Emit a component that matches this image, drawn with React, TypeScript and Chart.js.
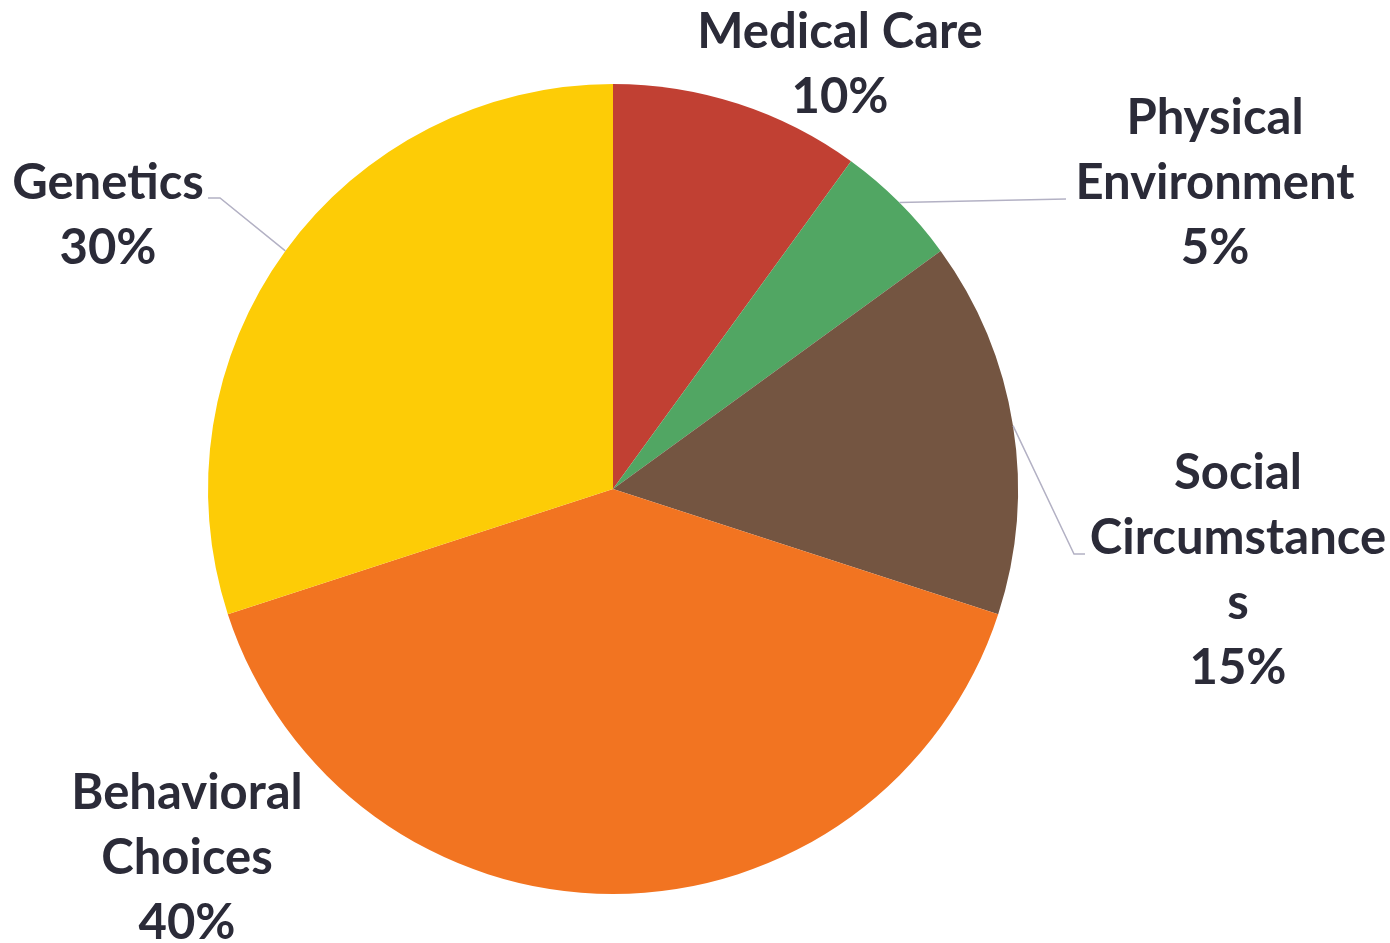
import React, { useEffect, useRef } from "react";
import { Chart, registerables } from "chart.js";

Chart.register(...registerables);

const categories = ["Medical Care", "Physical Environment", "Social Circumstances", "Behavioral Choices", "Genetics"];
const shares = [10, 5, 15, 40, 30];
const sliceColors = ["#C14033", "#51A663", "#745541", "#F27421", "#FDCC06"];
// label lines as they are wrapped in the picture
const labelLines = [
  ["Medical Care", "10%"],
  ["Physical", "Environment", "5%"],
  ["Social", "Circumstance", "s", "15%"],
  ["Behavioral", "Choices", "40%"],
  ["Genetics", "30%"],
];

// layout: label block centre x, first line middle y; optional leader line
const labelLayout = [
  { x: 840, y: 32, leader: null as null | number[][] },
  { x: 1215, y: 118, leader: [[1066, 199]] },
  { x: 1238, y: 473, leader: [[1074, 554], [1085, 554]] },
  { x: 187, y: 793, leader: null },
  { x: 108, y: 183, leader: [[220, 198], [208, 198]] },
];

const LINE_H = 65;
const FONT = "bold 49px Lato, 'Open Sans', sans-serif";
const TEXT_COLOR = "#2B2B38";
const LEADER_COLOR = "#B3B1C4";

const labelPlugin = {
  id: "pieLabels",
  afterDatasetsDraw(chart: any) {
    const ctx = chart.ctx as CanvasRenderingContext2D;
    const meta = chart.getDatasetMeta(0);
    ctx.save();
    meta.data.forEach((arc: any, i: number) => {
      const lay = labelLayout[i];
      if (lay.leader) {
        const { x, y, startAngle, endAngle, outerRadius } = arc.getProps(
          ["x", "y", "startAngle", "endAngle", "outerRadius"],
          true
        );
        const mid = (startAngle + endAngle) / 2;
        const sx = x + Math.cos(mid) * outerRadius;
        const sy = y + Math.sin(mid) * outerRadius;
        ctx.beginPath();
        ctx.moveTo(sx, sy);
        lay.leader.forEach((p) => ctx.lineTo(p[0], p[1]));
        ctx.strokeStyle = LEADER_COLOR;
        ctx.lineWidth = 1.5;
        ctx.stroke();
      }
      ctx.fillStyle = TEXT_COLOR;
      ctx.font = FONT;
      ctx.textAlign = "center";
      ctx.textBaseline = "middle";
      labelLines[i].forEach((t, k) => {
        ctx.fillText(t, lay.x, lay.y + k * LINE_H);
      });
    });
    ctx.restore();
  },
};

export default function App() {
  const ref = useRef<HTMLCanvasElement>(null);
  useEffect(() => {
    if (!ref.current) return;
    const chart = new Chart(ref.current, {
      type: "pie",
      data: {
        labels: categories,
        datasets: [
          {
            data: shares,
            backgroundColor: sliceColors,
            borderWidth: 0,
          },
        ],
      },
      options: {
        animation: false,
        responsive: false,
        maintainAspectRatio: false,
        layout: { padding: { left: 208, right: 372, top: 84, bottom: 49 } },
        plugins: {
          legend: { display: false },
          tooltip: { enabled: false },
        },
      },
      plugins: [labelPlugin],
    });
    return () => chart.destroy();
  }, []);
  return (
    <div style={{ position: "fixed", left: 0, top: 0, width: 1390, height: 943, background: "#fff" }}>
      <canvas ref={ref} width={1390} height={943} style={{ width: 1390, height: 943 }} />
    </div>
  );
}
